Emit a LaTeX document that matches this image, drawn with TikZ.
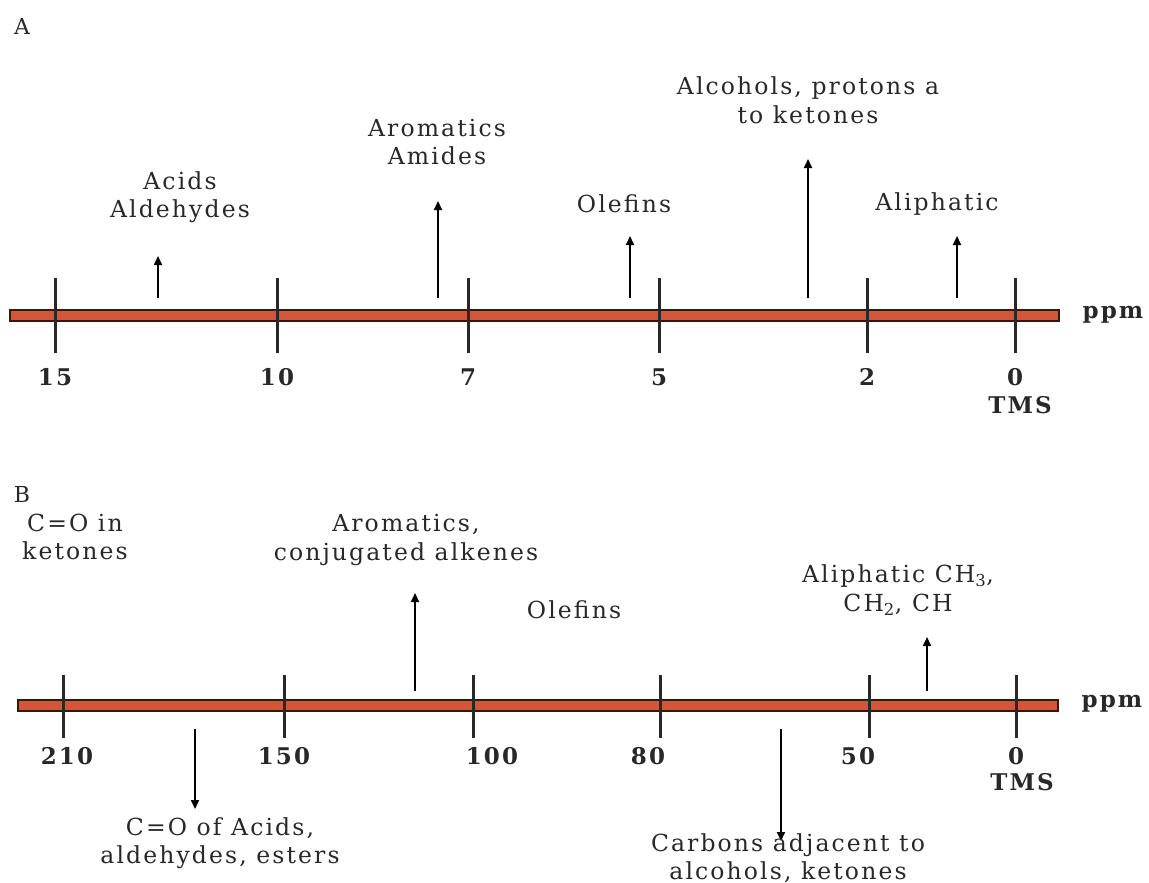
\documentclass[tikz,border=0pt]{standalone}
\usepackage{fontspec}
\setmainfont{DejaVu Serif}
\newfontfamily\spaced[LetterSpace=9]{DejaVu Serif}
\newfontfamily\spacedbold[LetterSpace=9]{DejaVu Serif Bold}
\usetikzlibrary{arrows.meta}
\definecolor{barfill}{RGB}{212,86,58}
\definecolor{barline}{RGB}{60,20,12}
\definecolor{ink}{RGB}{40,40,40}
\tikzset{
  scalebar/.style={fill=barfill, draw=barline, line width=1.8pt},
  tickmark/.style={draw=ink, line width=3pt},
  pointer/.style={draw=black, line width=2pt, -{Triangle[length=9pt,width=8pt]}},
  region/.style={font=\spaced\fontsize{23.5}{28.5}\selectfont, align=center, text=ink, inner sep=0pt},
  value/.style={font=\spacedbold\fontsize{23}{26}\selectfont, text=ink, inner sep=0pt},
  panel/.style={font=\fontsize{22}{24}\selectfont, text=ink, inner sep=0pt},
}
\begin{document}
\begin{tikzpicture}[x=1pt,y=-1pt]
\useasboundingbox (0,0) rectangle (1149,883);

% ---------- Panel A: 1H chemical shifts ----------
\node[panel] (la) at (22,26) {A};
\path[scalebar] (10,310) rectangle (1059,321);
\node[value] (ppmA) at (1113,315) {ppm};
\foreach \x/\v/\n in {55/15/a15, 277/10/a10, 468/7/a7, 659/5/a5, 867/2/a2, 1015/0/a0}{
  \draw[tickmark] (\x,278) -- (\x,353);
  \node[value] (\n) at (\x,377) {\v};
}
\node[value] (tmsA) at (1020,405) {TMS};

\coordinate (pa1) at (158,298); \coordinate (ta1) at (158,256);
\coordinate (pa2) at (438,298); \coordinate (ta2) at (438,201);
\coordinate (pa3) at (630,298); \coordinate (ta3) at (630,236);
\coordinate (pa4) at (808,298); \coordinate (ta4) at (808,159);
\coordinate (pa5) at (957,298); \coordinate (ta5) at (957,236);
\foreach \i in {1,...,5}{ \draw[pointer] (pa\i) -- (ta\i); }

\node[region] (acids) at (180,197) {Acids\\Aldehydes};
\node[region] (arom) at (437,142) {Aromatics\\Amides};
\node[region] (olefA) at (624,204) {Olefins};
\node[region] (alco) at (808,100) {Alcohols, protons a\\to ketones};
\node[region] (aliA) at (937,204) {Aliphatic};

% ---------- Panel B: 13C chemical shifts ----------
\node[panel] (lb) at (22,494) {B};
\path[scalebar] (18,700) rectangle (1058,711);
\node[value] (ppmB) at (1112,704) {ppm};
\foreach \x in {63, 284, 473, 660, 869, 1016}{
  \draw[tickmark] (\x,675) -- (\x,738);
}
\foreach \x/\v/\n in {67/210/b210, 284/150/b150, 492/100/b100, 648/80/b80, 858/50/b50, 1016/0/b0}{
  \node[value] (\n) at (\x,756) {\v};
}
\node[value] (tmsB) at (1022,782) {TMS};

\coordinate (pb1) at (415,691); \coordinate (tb1) at (415,593);
\coordinate (pb2) at (927,691); \coordinate (tb2) at (927,637);
\coordinate (pb3) at (195,729); \coordinate (tb3) at (195,809);
\coordinate (pb4) at (781,729); \coordinate (tb4) at (781,841);
\foreach \i in {1,...,4}{ \draw[pointer] (pb\i) -- (tb\i); }

\node[region] (cok) at (75,537) {C=O in\\ketones};
\node[region] (aromB) at (406,540) {Aromatics,\\conjugated alkenes};
\node[region] (olefB) at (574,610) {Olefins};
\node[region] (aliB) at (898,590) {Aliphatic CH\textsubscript{3},\\CH\textsubscript{2}, CH};
\node[region] (coacid) at (220,843) {C=O of Acids,\\aldehydes, esters};
\node[region] (carb) at (788,858) {Carbons adjacent to\\alcohols, ketones};
\end{tikzpicture}
\end{document}
